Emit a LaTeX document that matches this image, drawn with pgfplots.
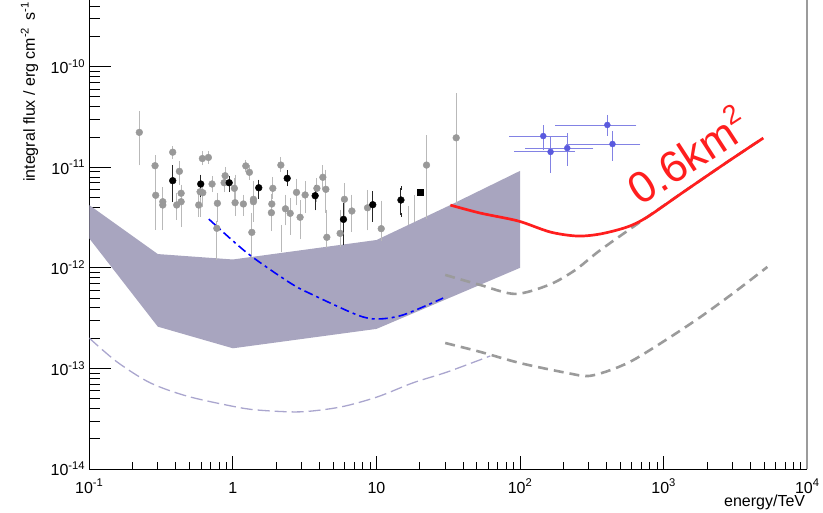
\documentclass[border=0pt]{standalone}
\usepackage{pgfplots}
\pgfplotsset{compat=1.18}
\usepackage{pgfplotstable}
\usepackage{fontspec}
\setmainfont{Liberation Sans}

\definecolor{bandc}{RGB}{168,165,191}
\definecolor{lband}{RGB}{170,166,206}
\definecolor{gmark}{RGB}{153,153,153}
\definecolor{gerr}{RGB}{185,185,185}
\definecolor{gdash}{RGB}{155,155,155}
\definecolor{bmark}{RGB}{90,90,222}
\definecolor{berr}{RGB}{130,130,228}
\definecolor{redc}{RGB}{255,30,30}

\pgfplotstableread{
x y ep em
0.223 2.22e-11 1.22e-11 1.13e-11
0.287 1.035e-11 2.25e-12 4.4e-12
0.290 5.26e-12 2.2e-12 2.77e-12
0.325 4.54e-12 1.53e-12 2.05e-12
0.325 4.21e-12 1.09e-12 0.86e-12
0.381 1.41e-11 1.4e-12 1.5e-12
0.424 9.1e-12 1.9e-12 2.13e-12
0.436 5.51e-12 0.89e-12 2.85e-12
0.406 4.21e-12 1.09e-12 1.08e-12
0.436 4.54e-12 0.76e-12 1.19e-12
0.613 1.22e-11 1.6e-12 1.2e-12
0.675 1.25e-11 1.3e-12 1.2e-12
0.591 5.70e-12 1.76e-12 2.35e-12
0.617 5.58e-12 1.07e-12 1.37e-12
0.578 4.21e-12 1.09e-12 0.86e-12
0.716 6.81e-12 1.0e-12 0.88e-12
0.780 4.38e-12 0.92e-12 1.39e-12
0.773 2.47e-12 0.32e-12 1.22e-12
0.883 8.23e-12 1.37e-12 1.26e-12
0.869 7.01e-12 1.35e-12 1.08e-12
1.024 6.17e-12 1.29e-12 1.45e-12
1.036 4.44e-12 3.61e-12 1.01e-12
1.183 4.31e-12 0.78e-12 0.88e-12
1.230 1.03e-11 1.0e-12 0.9e-12
1.303 8.9e-12 1.15e-12 1.09e-12
1.390 4.80e-12 2.17e-12 1.81e-12
1.390 4.54e-12 0.76e-12 0.84e-12
1.355 2.25e-12 1.10e-12 0.91e-12
1.897 6.17e-12 1.47e-12 1.08e-12
1.867 4.31e-12 0.87e-12 0.72e-12
1.854 3.53e-12 1.19e-12 1.11e-12
2.158 1.05e-11 1.6e-12 1.1e-12
2.323 3.86e-12 1.23e-12 1.09e-12
2.506 3.48e-12 1.24e-12 1.25e-12
2.773 5.62e-12 1.73e-12 1.24e-12
2.938 3.18e-12 1.30e-12 1.17e-12
3.184 5.30e-12 1.62e-12 1.60e-12
3.846 6.17e-12 1.29e-12 1.45e-12
4.23 7.94e-12 2.04e-12 1.54e-12
4.44 6.03e-12 2.99e-12 2.33e-12
4.51 2.01e-12 1.60e-12 0.37e-12
5.58 2.20e-12 1.41e-12 0.52e-12
5.98 4.80e-12 1.85e-12 1.62e-12
6.74 3.67e-12 1.42e-12 1.29e-12
8.66 3.95e-12 1.75e-12 1.48e-12
10.79 2.45e-12 1.99e-12 0.50e-12
22.3 1.05e-11 9.3e-12 7.28e-12
35.9 1.96e-11 3.26e-11 1.506e-11
}\greydata

% error bars of points that lie inside the band (only their upper part shows)
\pgfplotstableread{
x y ep
16.6 2.66e-12 1.27e-12
18.3 2.85e-12 2.21e-12
2.168 1.42e-12 1.13e-12
}\greyhidden

\pgfplotstableread{
x y ep em
0.381 7.35e-12 2.75e-12 2.63e-12
0.597 6.81e-12 1.24e-12 1.51e-12
0.942 7.01e-12 0.80e-12 1.08e-12
1.514 6.25e-12 0.93e-12 1.16e-12
2.388 7.76e-12 1.14e-12 1.0e-12
3.740 5.21e-12 1.19e-12 1.31e-12
5.89 3.03e-12 1.18e-12 1.28e-12
9.42 4.24e-12 1.27e-12 1.25e-12
14.8 4.72e-12 1.45e-12 1.37e-12
}\blackdata

\pgfplotstableread{
x y xp xm yp ym
145 2.04e-11 65 58.3 0.47e-11 0.49e-11
163 1.42e-11 71 69 0.53e-11 0.50e-11
213 1.55e-11 100 101 0.54e-11 0.47e-11
405 2.63e-11 220 223 0.53e-11 0.49e-11
440 1.70e-11 227 223 0.49e-11 0.49e-11
}\bluedata

\begin{document}
\begin{tikzpicture}
\begin{axis}[
  scale only axis, width=718pt, height=503pt,
  xmode=log, ymode=log,
  xmin=0.1, xmax=1e4, ymin=1e-14, ymax=1e-9,
  axis x line=none, axis y line*=left,
  xtick=\empty,
  ytick={1e-14,1e-13,1e-12,1e-11,1e-10},
  yticklabels={10\textsuperscript{-14},10\textsuperscript{-13},10\textsuperscript{-12},10\textsuperscript{-11},10\textsuperscript{-10}},
  minor ytick={2e-14,3e-14,4e-14,5e-14,6e-14,7e-14,8e-14,9e-14,
               2e-13,3e-13,4e-13,5e-13,6e-13,7e-13,8e-13,9e-13,
               2e-12,3e-12,4e-12,5e-12,6e-12,7e-12,8e-12,9e-12,
               2e-11,3e-11,4e-11,5e-11,6e-11,7e-11,8e-11,9e-11,
               2e-10,3e-10,4e-10,5e-10,6e-10,7e-10,8e-10,9e-10},
  tick align=inside,
  major tick length=22pt, minor tick length=11pt,
  tick style={black, line width=0.8pt},
  axis line style={black, line width=0.9pt},
  yticklabel style={font=\fontsize{16}{19}\selectfont, anchor=east, inner sep=0pt, xshift=-4pt},
]
% sensitivity band
\addplot[fill=bandc, draw=none] coordinates {
  (0.1,4.2e-12) (0.3,1.37e-12) (1,1.21e-12) (10,1.89e-12) (32.6,4.2e-12) (100,9.2e-12)
  (100,1.0e-12) (10,2.47e-13) (1,1.585e-13) (0.3,2.6e-13) (0.1,1.96e-12)} -- cycle;

% grey points
\addplot[only marks, mark=*, mark size=3.4pt, mark options={draw=gmark, fill=gmark},
  error bars/.cd, y dir=both, y explicit,
  error bar style={gerr, line width=1pt},
  error mark options={gerr, mark size=2pt, line width=0.8pt}]
  table[x=x, y=y, y error plus=ep, y error minus=em]{\greydata};

\addplot[only marks, mark=*, mark size=0.1pt, mark options={opacity=0},
  error bars/.cd, y dir=plus, y explicit,
  error bar style={gerr, line width=1pt},
  error mark options={gerr, mark size=2pt, line width=0.8pt}]
  table[x=x, y=y, y error plus=ep]{\greyhidden};

% light purple dashed
\addplot[lband, line width=1.3pt, dash pattern=on 12pt off 5pt, smooth] coordinates {
  (0.1,2.0e-13) (0.156,1.16e-13) (0.265,7.2e-14) (0.48,5.3e-14) (1.0,4.2e-14)
  (1.48,3.86e-14) (2.94,3.7e-14) (5.6,4.13e-14) (10.1,5.2e-14) (18,7.2e-14)
  (31,9.2e-14) (62,1.33e-13)};

% grey dashed upper
\addplot[gdash, line width=2.6pt, dash pattern=on 10pt off 6pt, smooth] coordinates {
  (30.1,8.5e-13) (52.8,6.75e-13) (92.5,5.5e-13) (160,6.8e-13) (242,9.5e-13)
  (362,1.5e-12) (769,3.2e-12) (1370,5.66e-12) (2780,1.13e-11) (4940,1.95e-11)};

% grey dashed lower
\addplot[gdash, line width=2.6pt, dash pattern=on 10pt off 6pt, smooth] coordinates {
  (30.1,1.79e-13) (52.8,1.46e-13) (100,1.13e-13) (213,9.0e-14) (298,8.4e-14)
  (424,9.6e-14) (614,1.21e-13) (1060,1.96e-13) (1800,3.24e-13) (3050,5.6e-13)
  (5270,1.02e-12)};

% blue dash-dot
\addplot[blue, line width=1.6pt, dash pattern=on 9pt off 4pt on 3pt off 4pt, smooth] coordinates {
  (0.68,3.05e-12) (1.26,1.40e-12) (2.51,7.06e-13) (3.62,5.37e-13) (7.34,3.4e-13)
  (10.1,3.1e-13) (15.3,3.4e-13) (29.1,5.0e-13)};

% red curve
\addplot[redc, line width=2.7pt, smooth] coordinates {
  (32.7,4.2e-12) (52.8,3.5e-12) (97,2.92e-12) (162,2.27e-12) (250,2.07e-12)
  (362,2.17e-12) (559,2.55e-12) (769,3.2e-12) (1370,5.66e-12) (2780,1.13e-11)
  (4940,1.95e-11)};

% black points
\addplot[only marks, mark=*, mark size=3.4pt, mark options={draw=black, fill=black},
  error bars/.cd, y dir=both, y explicit,
  error bar style={black!85, line width=1pt},
  error mark options={black!85, mark size=2pt, line width=0.8pt}]
  table[x=x, y=y, y error plus=ep, y error minus=em]{\blackdata};

\addplot[only marks, mark=square*, mark size=3pt, mark options={draw=black, fill=black}]
  coordinates {(20.1,5.70e-12)};

% blue points
\addplot[only marks, mark=*, mark size=3pt, mark options={draw=bmark, fill=bmark},
  error bars/.cd, x dir=both, x explicit, y dir=both, y explicit,
  error bar style={berr, line width=0.9pt},
  error mark options={berr, mark size=2pt, line width=0.8pt}]
  table[x=x, y=y, x error plus=xp, x error minus=xm, y error plus=yp, y error minus=ym]{\bluedata};

\node[rotate=33, anchor=base west, text=redc, font=\fontsize{44}{50}\selectfont, inner sep=0pt]
  at (axis cs:688,4.02e-12) {0.6km\raisebox{0.42em}{\fontsize{27}{30}\selectfont 2}};

\coordinate (O) at (rel axis cs:0,0);
\coordinate (BR) at (rel axis cs:1,0);
\coordinate (TR) at (rel axis cs:1,1);
\end{axis}

\begin{axis}[
  scale only axis, width=718pt, height=503pt,
  xmode=log, ymode=log,
  xmin=0.1, xmax=1e4, ymin=1e-14, ymax=1e-9,
  axis y line=none, axis x line*=bottom,
  ytick=\empty,
  xtick={0.1,1,10,100,1000,10000},
  xticklabels={10\textsuperscript{-1},1,10,10\textsuperscript{2},10\textsuperscript{3},10\textsuperscript{4}},
  minor xtick={0.2,0.3,0.4,0.5,0.6,0.7,0.8,0.9,2,3,4,5,6,7,8,9,
               20,30,40,50,60,70,80,90,200,300,400,500,600,700,800,900,
               2000,3000,4000,5000,6000,7000,8000,9000},
  tick align=inside,
  major tick length=13pt, minor tick length=7pt,
  tick style={black, line width=0.8pt},
  axis line style={black, line width=0.9pt},
  xticklabel style={font=\fontsize{16}{19}\selectfont, anchor=base, inner sep=0pt, yshift=-24pt},
]
\end{axis}

\draw[gdash, line width=2pt] (BR) -- (TR);

\node[rotate=90, anchor=base west, inner sep=0pt, font=\fontsize{16}{18}\selectfont]
  at ([shift={(-54.3pt,287pt)}]O) {integral flux / erg cm\textsuperscript{-2}\, s\textsuperscript{-1}};
\node[anchor=base east, inner sep=0pt, font=\fontsize{16}{19}\selectfont]
  at ([shift={(716pt,-38pt)}]O) {energy/TeV};

\pgfresetboundingbox
\path[use as bounding box] ([shift={(-89.3pt,-44pt)}]O) rectangle ([shift={(733.7pt,469pt)}]O);
\end{tikzpicture}
\end{document}
